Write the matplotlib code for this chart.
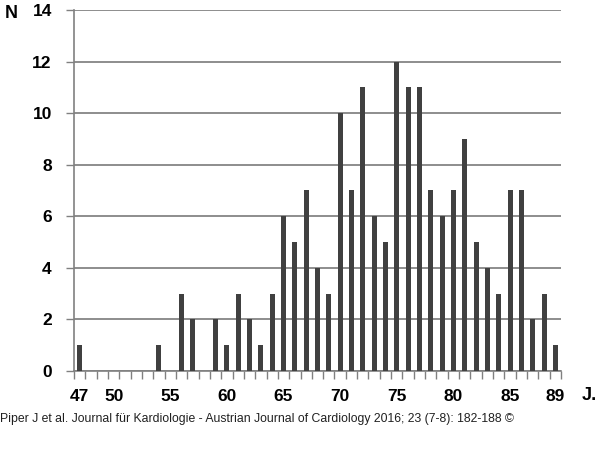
import matplotlib
matplotlib.use("Agg")
import matplotlib.pyplot as plt
import numpy as np

years = list(range(47, 90))
counts = [1, 0, 0, 0, 0, 0, 0, 1, 0, 3, 2, 0, 2, 1, 3, 2, 1, 3, 6, 5,
          7, 4, 3, 10, 7, 11, 6, 5, 12, 11, 11, 7, 6, 7, 9, 5, 4, 3, 7, 7,
          2, 3, 1]
label_years = [47, 50, 55, 60, 65, 70, 75, 80, 85, 89]
y_ticks = [0, 2, 4, 6, 8, 10, 12, 14]

plt.rcParams['font.family'] = ['Liberation Sans', 'DejaVu Sans']

fig = plt.figure(figsize=(6, 4.68), dpi=100)
ax = fig.add_axes([74/600, 1-371/468, (561-74)/600, (371-10)/468])

x = np.arange(len(years))
ax.bar(x, counts, width=0.44, color='#404040', zorder=3)

ax.set_xlim(-0.5, len(years) - 0.5)
ax.set_ylim(0, 14)
ax.set_yticks(y_ticks)
ax.set_yticklabels([str(v) for v in y_ticks], fontsize=12.5, fontweight='bold')
ax.yaxis.grid(True, color='#7a7a7a', linewidth=1.2, zorder=1)
ax.tick_params(axis='y', length=6, width=1, color='#808080', pad=10)

ax.set_xticks([years.index(v) for v in label_years])
ax.set_xticklabels([str(v) for v in label_years], fontsize=12.5, fontweight='bold')
ax.tick_params(axis='x', which='major', length=0, pad=13)
ax.set_xticks(np.arange(-0.5, len(years), 1.0), minor=True)
ax.tick_params(axis='x', which='minor', length=6, width=1, color='#808080')

for s in ['top', 'right']:
    ax.spines[s].set_visible(False)
for s in ['left', 'bottom']:
    ax.spines[s].set_color('#808080')
    ax.spines[s].set_linewidth(1.2)

fig.text(11/600, 1-14/468, 'N', fontsize=13, fontweight='bold', ha='center', va='center')
fig.text(589/600, 1-396/468, 'J.', fontsize=13, fontweight='bold', ha='center', va='center')
fig.text(0.0, 1-419/468, 'Piper J et al. Journal für Kardiologie - Austrian Journal of Cardiology 2016; 23 (7-8): 182-188 ©',
         fontsize=8.8, color='#202020', ha='left', va='center')

fig.savefig('out.png', dpi=100, facecolor='white')
